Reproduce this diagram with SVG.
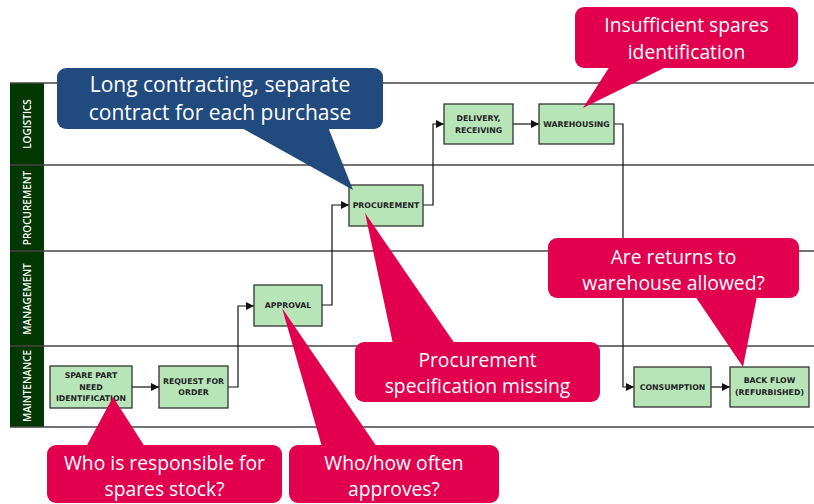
<svg xmlns="http://www.w3.org/2000/svg" width="814" height="504" viewBox="0 0 814 504">
<defs>
<marker id="arr" viewBox="0 0 10 10" refX="10" refY="5" markerWidth="8" markerHeight="8" markerUnits="userSpaceOnUse" orient="auto">
<path d="M0,0 L10,5 L0,10 Z" fill="#111"/>
</marker>
<style>
.lane{stroke:#444;stroke-width:1.5;fill:none}
.hdr{fill:#013801}
.hdrt{fill:#fff;font-family:"Open Sans",sans-serif;font-weight:600;font-size:10px;text-anchor:middle}
.node rect{fill:#b7e5b8;stroke:#333;stroke-width:1.3}
.node text{font-family:"DejaVu Sans",sans-serif;font-weight:bold;font-size:7.8px;fill:#222;text-anchor:middle}
.conn path{fill:none;stroke:#111;stroke-width:1.2;marker-end:url(#arr)}
.red{fill:#e2004e}
.blue{fill:#214a7e}
.ct{fill:#fff;font-family:"Open Sans",sans-serif;font-size:19.3px;text-anchor:middle}
.cb{font-size:21px}
</style>
</defs>
<rect width="814" height="504" fill="#fff"/>
<g id="lanes">
<rect class="hdr" x="10" y="83" width="34" height="344"/>
<line class="lane" x1="10" y1="83" x2="814" y2="83"/>
<line class="lane" x1="10" y1="165" x2="814" y2="165"/>
<line class="lane" x1="10" y1="251" x2="814" y2="251"/>
<line class="lane" x1="10" y1="346" x2="814" y2="346"/>
<line class="lane" x1="10" y1="427" x2="814" y2="427"/>
<text class="hdrt" transform="translate(31,124) rotate(-90)">LOGISTICS</text>
<text class="hdrt" transform="translate(31,208) rotate(-90)">PROCUREMENT</text>
<text class="hdrt" transform="translate(31,299) rotate(-90)">MANAGEMENT</text>
<text class="hdrt" transform="translate(31,386) rotate(-90)">MAINTENANCE</text>
</g>
<g id="connectors" class="conn">
<path d="M132,387 H159"/>
<path d="M228,387 H238 V306 H254"/>
<path d="M322,305 H332 V205 H349"/>
<path d="M423,205 H433 V124 H444"/>
<path d="M513,124 H539"/>
<path d="M614,124 H623 V387 H634"/>
<path d="M711,387 H730"/>
</g>
<g id="n-spare" class="node"><rect x="50" y="366" width="82" height="42"/><text x="91" y="378">SPARE PART</text><text x="91" y="390">NEED</text><text x="91" y="401">IDENTIFICATION</text></g>
<g id="n-request" class="node"><rect x="159" y="366" width="69" height="42"/><text x="193.5" y="384">REQUEST FOR</text><text x="193.5" y="395">ORDER</text></g>
<g id="n-approval" class="node"><rect x="254" y="285" width="68" height="41"/><text x="288" y="308">APPROVAL</text></g>
<g id="n-procurement" class="node"><rect x="349" y="185" width="74" height="41"/><text x="386" y="208">PROCUREMENT</text></g>
<g id="n-delivery" class="node"><rect x="444" y="104" width="69" height="40"/><text x="478.5" y="121">DELIVERY,</text><text x="478.5" y="133">RECEIVING</text></g>
<g id="n-warehousing" class="node"><rect x="539" y="104" width="75" height="40"/><text x="576.5" y="127">WAREHOUSING</text></g>
<g id="n-consumption" class="node"><rect x="634" y="367" width="77" height="40"/><text x="672.5" y="390">CONSUMPTION</text></g>
<g id="n-backflow" class="node"><rect x="730" y="367" width="79" height="40"/><text x="769.5" y="383">BACK FLOW</text><text x="769.5" y="395">(REFURBISHED)</text></g>
<g id="c-contracting">
<rect class="blue" x="57" y="68" width="326" height="61" rx="9"/>
<polygon class="blue" points="240,127 328,127 353,190"/>
<text class="ct cb" x="220" y="92">Long contracting, separate</text>
<text class="ct cb" x="220" y="120">contract for each purchase</text>
</g>
<g id="c-insufficient">
<rect class="red" x="575" y="7" width="223" height="61" rx="9"/>
<polygon class="red" points="610,66 668,66 583,108"/>
<text class="ct" x="686.5" y="32">Insufficient spares</text>
<text class="ct" x="686.5" y="59">identification</text>
</g>
<g id="c-specification">
<rect class="red" x="355" y="342" width="245" height="60" rx="9"/>
<polygon class="red" points="393,344 455,344 365,213"/>
<text class="ct" x="477.5" y="367">Procurement</text>
<text class="ct" x="477.5" y="393">specification missing</text>
</g>
<g id="c-returns">
<rect class="red" x="548" y="238" width="251" height="60" rx="9"/>
<polygon class="red" points="695,296 757,296 743,367"/>
<text class="ct" x="673.5" y="264">Are returns to</text>
<text class="ct" x="673.5" y="290">warehouse allowed?</text>
</g>
<g id="c-responsible">
<rect class="red" x="47" y="445" width="235" height="58" rx="9"/>
<polygon class="red" points="86,447 145,447 113,397"/>
<text class="ct" x="164.5" y="470">Who is responsible for</text>
<text class="ct" x="164.5" y="496">spares stock?</text>
</g>
<g id="c-approves">
<rect class="red" x="289" y="445" width="210" height="58" rx="9"/>
<polygon class="red" points="322,447 377,447 282,308"/>
<text class="ct" x="394" y="470">Who/how often</text>
<text class="ct" x="394" y="496">approves?</text>
</g>
</svg>
